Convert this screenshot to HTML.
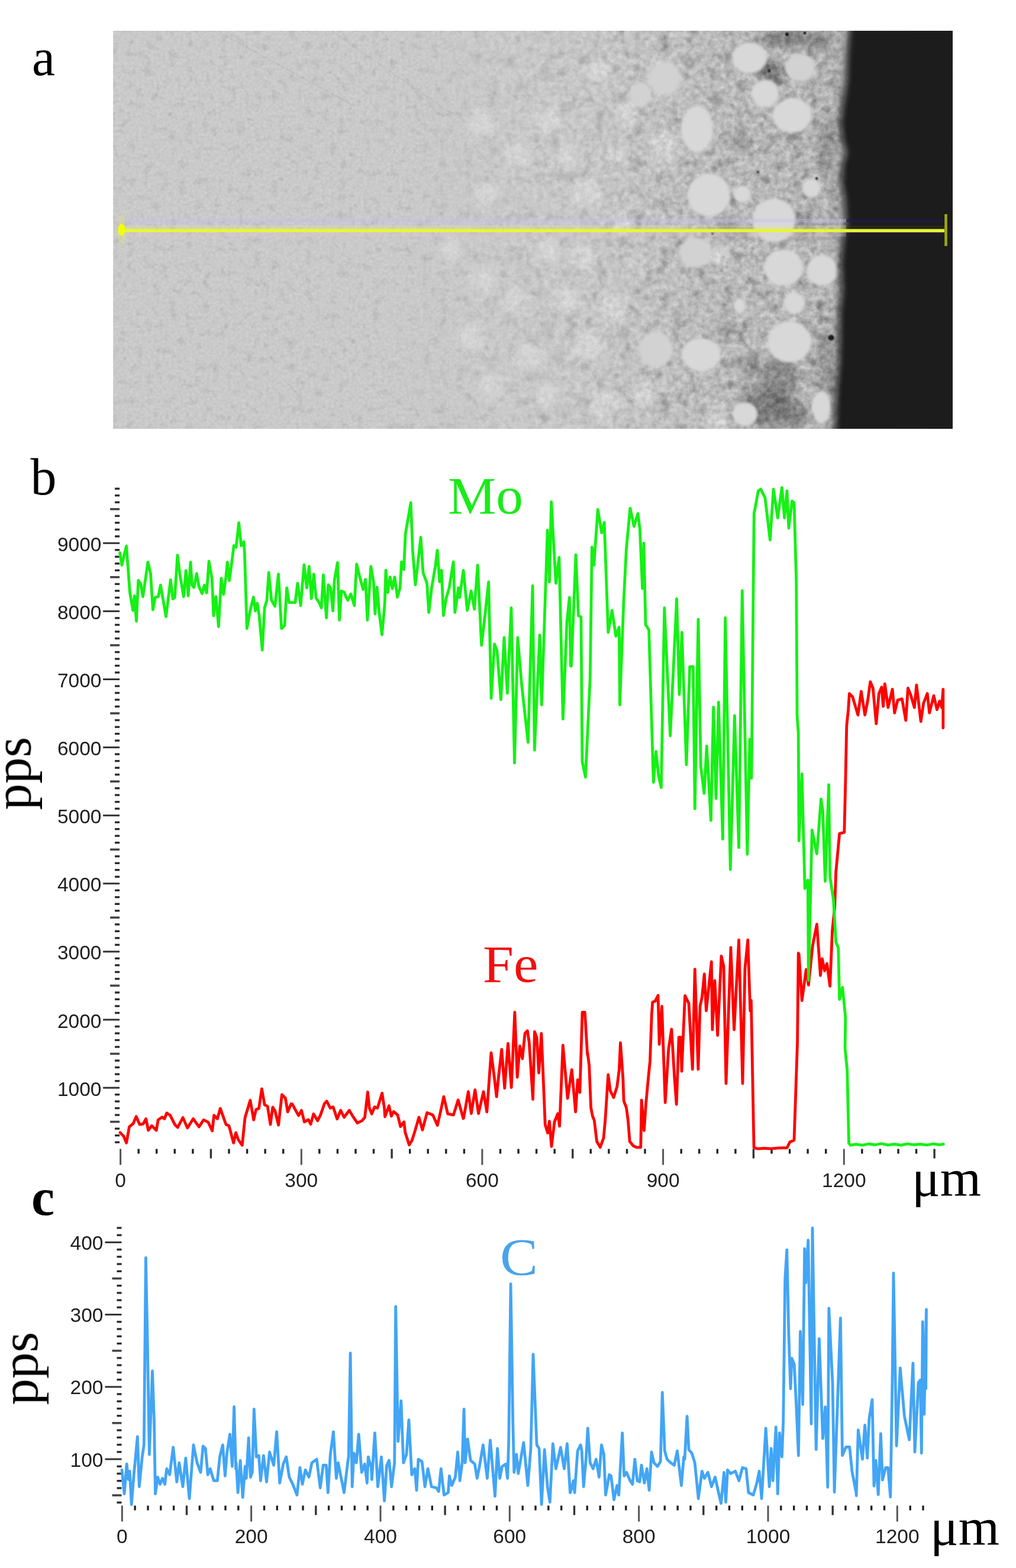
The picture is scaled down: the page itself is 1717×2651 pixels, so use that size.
<!DOCTYPE html>
<html><head><meta charset="utf-8"><title>Line scan</title>
<style>html,body{margin:0;padding:0;background:#fff;}svg{display:block;}</style>
</head><body>
<svg width="1717" height="2651" viewBox="0 0 1717 2651">
<rect x="0" y="0" width="1717" height="2651" fill="#fff"/>
<defs>
<clipPath id="pa"><rect x="191.5" y="52.0" width="1418.5" height="673.0"/></clipPath>
<linearGradient id="bg" x1="191.5" y1="0" x2="1610.0" y2="0" gradientUnits="userSpaceOnUse">
<stop offset="0.0000" stop-color="rgb(202,202,202)"/>
<stop offset="0.3585" stop-color="rgb(202,202,202)"/>
<stop offset="0.4642" stop-color="rgb(202,202,202)"/>
<stop offset="0.5700" stop-color="rgb(200,200,200)"/>
<stop offset="0.6405" stop-color="rgb(195,195,195)"/>
<stop offset="0.7110" stop-color="rgb(189,189,189)"/>
<stop offset="0.8026" stop-color="rgb(186,186,186)"/>
<stop offset="0.8449" stop-color="rgb(182,182,182)"/>
<stop offset="0.8590" stop-color="rgb(176,176,176)"/>
<stop offset="0.8731" stop-color="rgb(160,160,160)"/>
<stop offset="0.8837" stop-color="rgb(60,60,60)"/>
<stop offset="1.0000" stop-color="rgb(26,26,26)"/>
</linearGradient>
<filter id="blur2" x="-20%" y="-20%" width="140%" height="140%"><feGaussianBlur stdDeviation="2.2"/></filter>
<filter id="blur5" x="-30%" y="-30%" width="160%" height="160%"><feGaussianBlur stdDeviation="6"/></filter>
<filter id="blur1"><feGaussianBlur stdDeviation="1.2"/></filter>
<filter id="grainLo" filterUnits="userSpaceOnUse" x="191.5" y="52.0" width="1418.5" height="673.0" color-interpolation-filters="sRGB"><feTurbulence type="fractalNoise" baseFrequency="0.2" numOctaves="2" seed="11" result="t"/><feColorMatrix in="t" type="matrix" values="1 0 0 0 0  1 0 0 0 0  1 0 0 0 0  0 0 0 0 1" result="g"/><feComposite in="SourceGraphic" in2="g" operator="arithmetic" k1="0" k2="1" k3="0.09" k4="-0.045"/></filter>
<filter id="grainHi" filterUnits="userSpaceOnUse" x="191.5" y="52.0" width="1418.5" height="673.0" color-interpolation-filters="sRGB"><feTurbulence type="fractalNoise" baseFrequency="0.11" numOctaves="3" seed="5" result="t"/><feColorMatrix in="t" type="matrix" values="1 0 0 0 0  1 0 0 0 0  1 0 0 0 0  0 0 0 0 1" result="g"/><feComposite in="SourceGraphic" in2="g" operator="arithmetic" k1="0" k2="1" k3="0.28" k4="-0.14"/></filter>
<filter id="mottle" filterUnits="userSpaceOnUse" x="191.5" y="52.0" width="1418.5" height="673.0" color-interpolation-filters="sRGB"><feTurbulence type="fractalNoise" baseFrequency="0.045" numOctaves="2" seed="3" result="t"/><feColorMatrix type="matrix" values="0 0 0 0 0.25  0 0 0 0 0.25  0 0 0 0 0.25  0 0 0 -2.4 1.15" /></filter>
<filter id="mottleL" filterUnits="userSpaceOnUse" x="191.5" y="52.0" width="1418.5" height="673.0" color-interpolation-filters="sRGB"><feTurbulence type="fractalNoise" baseFrequency="0.07" numOctaves="3" seed="21" result="t"/><feColorMatrix type="matrix" values="0 0 0 0 0.3  0 0 0 0 0.3  0 0 0 0 0.3  0 0 0 -2.4 1.15" /></filter>
<filter id="blur3" x="-30%" y="-30%" width="160%" height="160%"><feGaussianBlur stdDeviation="3"/></filter>
<linearGradient id="nmask" x1="191.5" y1="0" x2="1610.0" y2="0" gradientUnits="userSpaceOnUse">
<stop offset="0.0000" stop-color="#fff" stop-opacity="0.00"/>
<stop offset="0.3444" stop-color="#fff" stop-opacity="0.00"/>
<stop offset="0.4642" stop-color="#fff" stop-opacity="0.30"/>
<stop offset="0.5700" stop-color="#fff" stop-opacity="0.50"/>
<stop offset="0.6757" stop-color="#fff" stop-opacity="0.80"/>
<stop offset="0.7674" stop-color="#fff" stop-opacity="1.00"/>
<stop offset="0.8661" stop-color="#fff" stop-opacity="1.00"/>
<stop offset="0.8731" stop-color="#fff" stop-opacity="0.00"/>
<stop offset="1.0000" stop-color="#fff" stop-opacity="0.00"/>
</linearGradient>
<mask id="nm"><rect x="191.5" y="52.0" width="1418.5" height="673.0" fill="url(#nmask)"/></mask>
</defs>
<g clip-path="url(#pa)">
<g id="pcontent">
<rect x="191.5" y="52.0" width="1418.5" height="673.0" fill="url(#bg)"/>
<rect x="191.5" y="52.0" width="1418.5" height="673.0" filter="url(#mottle)" mask="url(#nm)" opacity="0.45"/>
<rect x="191.5" y="52.0" width="1418.5" height="673.0" filter="url(#mottleL)" opacity="0.14"/>
<g filter="url(#blur5)" fill="#dcdcdc" opacity="0.6">
<ellipse cx="1011" cy="117" rx="20" ry="20"/>
<ellipse cx="1122" cy="133" rx="28" ry="28"/>
<ellipse cx="927" cy="201" rx="22" ry="22"/>
<ellipse cx="814" cy="208" rx="22" ry="22"/>
<ellipse cx="875" cy="263" rx="22" ry="22"/>
<ellipse cx="960" cy="263" rx="20" ry="20"/>
<ellipse cx="992" cy="328" rx="26" ry="26"/>
<ellipse cx="1041" cy="263" rx="16" ry="16"/>
<ellipse cx="823" cy="328" rx="20" ry="20"/>
<ellipse cx="927" cy="425" rx="22" ry="22"/>
<ellipse cx="985" cy="435" rx="20" ry="20"/>
<ellipse cx="1076" cy="448" rx="14" ry="14"/>
<ellipse cx="814" cy="474" rx="22" ry="22"/>
<ellipse cx="869" cy="506" rx="20" ry="20"/>
<ellipse cx="960" cy="506" rx="22" ry="22"/>
<ellipse cx="992" cy="587" rx="26" ry="26"/>
<ellipse cx="895" cy="604" rx="22" ry="22"/>
<ellipse cx="797" cy="571" rx="22" ry="22"/>
<ellipse cx="1024" cy="685" rx="26" ry="26"/>
<ellipse cx="927" cy="668" rx="20" ry="20"/>
<ellipse cx="830" cy="652" rx="20" ry="20"/>
<ellipse cx="1089" cy="668" rx="20" ry="20"/>
<ellipse cx="1060" cy="190" rx="20" ry="22"/>
<ellipse cx="1123" cy="250" rx="24" ry="26"/>
<ellipse cx="1040" cy="520" rx="22" ry="24"/>
<ellipse cx="760" cy="420" rx="18" ry="20"/>
<ellipse cx="1175" cy="429" rx="26" ry="24"/>
<ellipse cx="1217" cy="431" rx="18" ry="18"/>
<ellipse cx="1210" cy="707" rx="20" ry="20"/>
<ellipse cx="1050" cy="380" rx="18" ry="18"/>
</g>
<g filter="url(#blur5)">
<ellipse cx="1298" cy="118" rx="22" ry="18" fill="#555" opacity="0.60"/>
<ellipse cx="1330" cy="66" rx="45" ry="14" fill="#555" opacity="0.55"/>
<ellipse cx="1315" cy="135" rx="14" ry="10" fill="#555" opacity="0.50"/>
<ellipse cx="1290" cy="690" rx="40" ry="30" fill="#555" opacity="0.60"/>
<ellipse cx="1340" cy="700" rx="22" ry="26" fill="#555" opacity="0.50"/>
<ellipse cx="1387" cy="68" rx="16" ry="16" fill="#555" opacity="0.45"/>
<ellipse cx="1318" cy="640" rx="30" ry="40" fill="#555" opacity="0.45"/>
<ellipse cx="1228" cy="556" rx="14" ry="14" fill="#555" opacity="0.30"/>
<ellipse cx="1395" cy="250" rx="14" ry="50" fill="#555" opacity="0.30"/>
<ellipse cx="1395" cy="620" rx="14" ry="60" fill="#555" opacity="0.30"/>
<ellipse cx="1270" cy="620" rx="18" ry="20" fill="#555" opacity="0.35"/>
<ellipse cx="1250" cy="240" rx="16" ry="16" fill="#555" opacity="0.30"/>
<ellipse cx="1360" cy="380" rx="16" ry="22" fill="#555" opacity="0.35"/>
<ellipse cx="1230" cy="385" rx="18" ry="18" fill="#555" opacity="0.30"/>
</g>
<circle cx="1404.6" cy="571.0" r="5.0" fill="#111" filter="url(#blur1)"/>
<circle cx="1300.0" cy="120.0" r="2.6" fill="#111" filter="url(#blur1)"/>
<circle cx="1380.0" cy="302.0" r="2.2" fill="#111" filter="url(#blur1)"/>
<circle cx="1281.0" cy="291.0" r="1.8" fill="#111" filter="url(#blur1)"/>
<circle cx="1204.0" cy="395.0" r="1.8" fill="#111" filter="url(#blur1)"/>
<circle cx="1330.0" cy="58.0" r="3.0" fill="#111" filter="url(#blur1)"/>
<circle cx="1360.0" cy="56.0" r="2.5" fill="#111" filter="url(#blur1)"/>
<path d="M380,60 L600,180" stroke="#000" stroke-opacity="0.035" stroke-width="3" fill="none"/>
<path d="M560,52 L760,190" stroke="#000" stroke-opacity="0.03" stroke-width="3" fill="none"/>
</g>
<use href="#pcontent" filter="url(#grainLo)"/>
<use href="#pcontent" filter="url(#grainHi)" mask="url(#nm)"/>
<g filter="url(#blur2)">
<ellipse cx="1266.5" cy="98.0" rx="29.0" ry="26.0" fill="#d8d8d8"/>
<ellipse cx="1293.0" cy="158.0" rx="23.0" ry="23.0" fill="#d8d8d8"/>
<ellipse cx="1339.0" cy="195.0" rx="33.0" ry="29.0" fill="#d8d8d8"/>
<ellipse cx="1352.0" cy="114.0" rx="25.0" ry="23.0" fill="#d2d2d2"/>
<ellipse cx="1178.0" cy="218.0" rx="27.0" ry="39.0" fill="#d8d8d8"/>
<ellipse cx="1197.5" cy="330.0" rx="36.0" ry="36.0" fill="#d8d8d8"/>
<ellipse cx="1254.5" cy="328.0" rx="14.0" ry="14.0" fill="#d8d8d8"/>
<ellipse cx="1308.0" cy="372.0" rx="36.0" ry="37.0" fill="#d8d8d8"/>
<ellipse cx="1371.0" cy="318.0" rx="15.0" ry="16.0" fill="#d8d8d8"/>
<ellipse cx="1176.0" cy="427.0" rx="26.0" ry="25.0" fill="#d2d2d2"/>
<ellipse cx="1324.0" cy="452.5" rx="33.0" ry="31.0" fill="#d8d8d8"/>
<ellipse cx="1389.0" cy="457.0" rx="26.0" ry="26.0" fill="#d8d8d8"/>
<ellipse cx="1342.0" cy="512.0" rx="18.0" ry="18.0" fill="#d8d8d8"/>
<ellipse cx="1250.0" cy="517.0" rx="10.0" ry="12.0" fill="#d8d8d8"/>
<ellipse cx="1334.0" cy="578.0" rx="37.0" ry="35.0" fill="#d8d8d8"/>
<ellipse cx="1185.0" cy="600.0" rx="33.0" ry="28.0" fill="#d8d8d8"/>
<ellipse cx="1108.0" cy="591.0" rx="28.0" ry="30.0" fill="#d2d2d2"/>
<ellipse cx="1388.0" cy="688.0" rx="16.0" ry="27.0" fill="#d8d8d8"/>
<ellipse cx="1259.0" cy="700.0" rx="21.0" ry="20.0" fill="#d8d8d8"/>
<ellipse cx="1123.0" cy="132.0" rx="26.0" ry="27.0" fill="#d2d2d2"/>
<ellipse cx="1082.0" cy="160.0" rx="18.0" ry="20.0" fill="#d2d2d2"/>
</g>
<path d="M1434.0,48.0 L1431.0,70.0 L1428.0,95.0 L1426.0,137.0 L1418.0,180.0 L1415.0,208.0 L1418.0,237.0 L1425.0,258.0 L1418.0,279.0 L1416.5,308.0 L1422.0,336.0 L1424.0,365.0 L1425.0,383.0 L1421.0,395.0 L1419.0,404.0 L1415.0,446.0 L1417.5,489.0 L1413.0,531.0 L1413.0,573.0 L1412.0,615.0 L1408.0,658.0 L1406.0,700.0 L1406.0,730.0 L1419.0,730.0 L1419.0,700.0 L1421.0,658.0 L1425.0,615.0 L1426.0,573.0 L1426.0,531.0 L1430.5,489.0 L1428.0,446.0 L1432.0,404.0 L1434.0,395.0 L1438.0,383.0 L1437.0,365.0 L1435.0,336.0 L1429.5,308.0 L1431.0,279.0 L1438.0,258.0 L1431.0,237.0 L1428.0,208.0 L1431.0,180.0 L1439.0,137.0 L1441.0,95.0 L1444.0,70.0 L1447.0,48.0 Z" fill="#1a1a1a" opacity="0.5" filter="url(#blur3)"/>
<path d="M1443.0,48.0 L1440.0,70.0 L1437.0,95.0 L1435.0,137.0 L1427.0,180.0 L1424.0,208.0 L1427.0,237.0 L1434.0,258.0 L1427.0,279.0 L1425.5,308.0 L1431.0,336.0 L1433.0,365.0 L1434.0,383.0 L1430.0,395.0 L1428.0,404.0 L1424.0,446.0 L1426.5,489.0 L1422.0,531.0 L1422.0,573.0 L1421.0,615.0 L1417.0,658.0 L1415.0,700.0 L1415.0,730.0 L1612,726 L1612,50 Z" fill="#1a1a1a" filter="url(#blur3)"/>
<rect x="200" y="370" width="1230" height="6" fill="#c4bdf0" opacity="0.40"/>
<rect x="200" y="381" width="1230" height="6" fill="#e6e690" opacity="0.30"/>
<rect x="200" y="393" width="1230" height="7" fill="#dcc4e6" opacity="0.25"/>
<rect x="1430" y="370" width="167" height="6" fill="#20185a" opacity="0.45"/>
<rect x="1430" y="381" width="167" height="6" fill="#3a3a10" opacity="0.35"/>
<rect x="1430" y="393" width="167" height="7" fill="#2a1a40" opacity="0.30"/>
<line x1="204" y1="390" x2="1596" y2="390" stroke="#e8f634" stroke-width="5.5"/>
<line x1="1598.5" y1="362" x2="1598.5" y2="416" stroke="#a0aa08" stroke-width="4.5"/>
<rect x="200" y="365" width="11" height="45" fill="#e8ec60" opacity="0.3"/>
<ellipse cx="205.5" cy="388.5" rx="6" ry="10" fill="#f2ff00"/>
</g>
<rect x="194.1" y="1929.5" width="8.0" height="3.4" fill="#2a2a2a"/>
<rect x="194.1" y="1918.0" width="8.0" height="3.4" fill="#2a2a2a"/>
<rect x="194.1" y="1906.5" width="8.0" height="3.4" fill="#2a2a2a"/>
<rect x="186.1" y="1894.8" width="16.0" height="3.6" fill="#444"/>
<rect x="194.1" y="1883.4" width="8.0" height="3.4" fill="#2a2a2a"/>
<rect x="194.1" y="1871.9" width="8.0" height="3.4" fill="#2a2a2a"/>
<rect x="194.1" y="1860.4" width="8.0" height="3.4" fill="#2a2a2a"/>
<rect x="194.1" y="1848.9" width="8.0" height="3.4" fill="#2a2a2a"/>
<rect x="174.1" y="1837.6" width="28.0" height="3" fill="#333"/>
<text x="171.5" y="1852.6" text-anchor="end" style="font-family:'Liberation Sans',Arial,sans-serif;font-size:33.5px" fill="#1e1e1e">1000</text>
<rect x="194.1" y="1825.9" width="8.0" height="3.4" fill="#2a2a2a"/>
<rect x="194.1" y="1814.4" width="8.0" height="3.4" fill="#2a2a2a"/>
<rect x="194.1" y="1802.9" width="8.0" height="3.4" fill="#2a2a2a"/>
<rect x="194.1" y="1791.4" width="8.0" height="3.4" fill="#2a2a2a"/>
<rect x="186.1" y="1779.8" width="16.0" height="3.6" fill="#444"/>
<rect x="194.1" y="1768.3" width="8.0" height="3.4" fill="#2a2a2a"/>
<rect x="194.1" y="1756.8" width="8.0" height="3.4" fill="#2a2a2a"/>
<rect x="194.1" y="1745.3" width="8.0" height="3.4" fill="#2a2a2a"/>
<rect x="194.1" y="1733.8" width="8.0" height="3.4" fill="#2a2a2a"/>
<rect x="174.1" y="1722.5" width="28.0" height="3" fill="#333"/>
<text x="171.5" y="1737.5" text-anchor="end" style="font-family:'Liberation Sans',Arial,sans-serif;font-size:33.5px" fill="#1e1e1e">2000</text>
<rect x="194.1" y="1710.8" width="8.0" height="3.4" fill="#2a2a2a"/>
<rect x="194.1" y="1699.3" width="8.0" height="3.4" fill="#2a2a2a"/>
<rect x="194.1" y="1687.8" width="8.0" height="3.4" fill="#2a2a2a"/>
<rect x="194.1" y="1676.3" width="8.0" height="3.4" fill="#2a2a2a"/>
<rect x="186.1" y="1664.6" width="16.0" height="3.6" fill="#444"/>
<rect x="194.1" y="1653.2" width="8.0" height="3.4" fill="#2a2a2a"/>
<rect x="194.1" y="1641.7" width="8.0" height="3.4" fill="#2a2a2a"/>
<rect x="194.1" y="1630.2" width="8.0" height="3.4" fill="#2a2a2a"/>
<rect x="194.1" y="1618.7" width="8.0" height="3.4" fill="#2a2a2a"/>
<rect x="174.1" y="1607.4" width="28.0" height="3" fill="#333"/>
<text x="171.5" y="1622.4" text-anchor="end" style="font-family:'Liberation Sans',Arial,sans-serif;font-size:33.5px" fill="#1e1e1e">3000</text>
<rect x="194.1" y="1595.7" width="8.0" height="3.4" fill="#2a2a2a"/>
<rect x="194.1" y="1584.2" width="8.0" height="3.4" fill="#2a2a2a"/>
<rect x="194.1" y="1572.7" width="8.0" height="3.4" fill="#2a2a2a"/>
<rect x="194.1" y="1561.2" width="8.0" height="3.4" fill="#2a2a2a"/>
<rect x="186.1" y="1549.5" width="16.0" height="3.6" fill="#444"/>
<rect x="194.1" y="1538.1" width="8.0" height="3.4" fill="#2a2a2a"/>
<rect x="194.1" y="1526.6" width="8.0" height="3.4" fill="#2a2a2a"/>
<rect x="194.1" y="1515.1" width="8.0" height="3.4" fill="#2a2a2a"/>
<rect x="194.1" y="1503.6" width="8.0" height="3.4" fill="#2a2a2a"/>
<rect x="174.1" y="1492.3" width="28.0" height="3" fill="#333"/>
<text x="171.5" y="1507.3" text-anchor="end" style="font-family:'Liberation Sans',Arial,sans-serif;font-size:33.5px" fill="#1e1e1e">4000</text>
<rect x="194.1" y="1480.6" width="8.0" height="3.4" fill="#2a2a2a"/>
<rect x="194.1" y="1469.1" width="8.0" height="3.4" fill="#2a2a2a"/>
<rect x="194.1" y="1457.6" width="8.0" height="3.4" fill="#2a2a2a"/>
<rect x="194.1" y="1446.1" width="8.0" height="3.4" fill="#2a2a2a"/>
<rect x="186.1" y="1434.5" width="16.0" height="3.6" fill="#444"/>
<rect x="194.1" y="1423.0" width="8.0" height="3.4" fill="#2a2a2a"/>
<rect x="194.1" y="1411.5" width="8.0" height="3.4" fill="#2a2a2a"/>
<rect x="194.1" y="1400.0" width="8.0" height="3.4" fill="#2a2a2a"/>
<rect x="194.1" y="1388.5" width="8.0" height="3.4" fill="#2a2a2a"/>
<rect x="174.1" y="1377.2" width="28.0" height="3" fill="#333"/>
<text x="171.5" y="1392.2" text-anchor="end" style="font-family:'Liberation Sans',Arial,sans-serif;font-size:33.5px" fill="#1e1e1e">5000</text>
<rect x="194.1" y="1365.5" width="8.0" height="3.4" fill="#2a2a2a"/>
<rect x="194.1" y="1354.0" width="8.0" height="3.4" fill="#2a2a2a"/>
<rect x="194.1" y="1342.5" width="8.0" height="3.4" fill="#2a2a2a"/>
<rect x="194.1" y="1331.0" width="8.0" height="3.4" fill="#2a2a2a"/>
<rect x="186.1" y="1319.4" width="16.0" height="3.6" fill="#444"/>
<rect x="194.1" y="1307.9" width="8.0" height="3.4" fill="#2a2a2a"/>
<rect x="194.1" y="1296.4" width="8.0" height="3.4" fill="#2a2a2a"/>
<rect x="194.1" y="1284.9" width="8.0" height="3.4" fill="#2a2a2a"/>
<rect x="194.1" y="1273.4" width="8.0" height="3.4" fill="#2a2a2a"/>
<rect x="174.1" y="1262.1" width="28.0" height="3" fill="#333"/>
<text x="171.5" y="1277.1" text-anchor="end" style="font-family:'Liberation Sans',Arial,sans-serif;font-size:33.5px" fill="#1e1e1e">6000</text>
<rect x="194.1" y="1250.4" width="8.0" height="3.4" fill="#2a2a2a"/>
<rect x="194.1" y="1238.9" width="8.0" height="3.4" fill="#2a2a2a"/>
<rect x="194.1" y="1227.4" width="8.0" height="3.4" fill="#2a2a2a"/>
<rect x="194.1" y="1215.9" width="8.0" height="3.4" fill="#2a2a2a"/>
<rect x="186.1" y="1204.2" width="16.0" height="3.6" fill="#444"/>
<rect x="194.1" y="1192.8" width="8.0" height="3.4" fill="#2a2a2a"/>
<rect x="194.1" y="1181.3" width="8.0" height="3.4" fill="#2a2a2a"/>
<rect x="194.1" y="1169.8" width="8.0" height="3.4" fill="#2a2a2a"/>
<rect x="194.1" y="1158.3" width="8.0" height="3.4" fill="#2a2a2a"/>
<rect x="174.1" y="1147.0" width="28.0" height="3" fill="#333"/>
<text x="171.5" y="1162.0" text-anchor="end" style="font-family:'Liberation Sans',Arial,sans-serif;font-size:33.5px" fill="#1e1e1e">7000</text>
<rect x="194.1" y="1135.3" width="8.0" height="3.4" fill="#2a2a2a"/>
<rect x="194.1" y="1123.8" width="8.0" height="3.4" fill="#2a2a2a"/>
<rect x="194.1" y="1112.3" width="8.0" height="3.4" fill="#2a2a2a"/>
<rect x="194.1" y="1100.8" width="8.0" height="3.4" fill="#2a2a2a"/>
<rect x="186.1" y="1089.1" width="16.0" height="3.6" fill="#444"/>
<rect x="194.1" y="1077.7" width="8.0" height="3.4" fill="#2a2a2a"/>
<rect x="194.1" y="1066.2" width="8.0" height="3.4" fill="#2a2a2a"/>
<rect x="194.1" y="1054.7" width="8.0" height="3.4" fill="#2a2a2a"/>
<rect x="194.1" y="1043.2" width="8.0" height="3.4" fill="#2a2a2a"/>
<rect x="174.1" y="1031.9" width="28.0" height="3" fill="#333"/>
<text x="171.5" y="1046.9" text-anchor="end" style="font-family:'Liberation Sans',Arial,sans-serif;font-size:33.5px" fill="#1e1e1e">8000</text>
<rect x="194.1" y="1020.2" width="8.0" height="3.4" fill="#2a2a2a"/>
<rect x="194.1" y="1008.7" width="8.0" height="3.4" fill="#2a2a2a"/>
<rect x="194.1" y="997.2" width="8.0" height="3.4" fill="#2a2a2a"/>
<rect x="194.1" y="985.7" width="8.0" height="3.4" fill="#2a2a2a"/>
<rect x="186.1" y="974.0" width="16.0" height="3.6" fill="#444"/>
<rect x="194.1" y="962.6" width="8.0" height="3.4" fill="#2a2a2a"/>
<rect x="194.1" y="951.1" width="8.0" height="3.4" fill="#2a2a2a"/>
<rect x="194.1" y="939.6" width="8.0" height="3.4" fill="#2a2a2a"/>
<rect x="194.1" y="928.1" width="8.0" height="3.4" fill="#2a2a2a"/>
<rect x="174.1" y="916.8" width="28.0" height="3" fill="#333"/>
<text x="171.5" y="931.8" text-anchor="end" style="font-family:'Liberation Sans',Arial,sans-serif;font-size:33.5px" fill="#1e1e1e">9000</text>
<rect x="194.1" y="905.1" width="8.0" height="3.4" fill="#2a2a2a"/>
<rect x="194.1" y="893.6" width="8.0" height="3.4" fill="#2a2a2a"/>
<rect x="194.1" y="882.1" width="8.0" height="3.4" fill="#2a2a2a"/>
<rect x="194.1" y="870.6" width="8.0" height="3.4" fill="#2a2a2a"/>
<rect x="186.1" y="859.0" width="16.0" height="3.6" fill="#444"/>
<rect x="194.1" y="847.5" width="8.0" height="3.4" fill="#2a2a2a"/>
<rect x="194.1" y="836.0" width="8.0" height="3.4" fill="#2a2a2a"/>
<rect x="194.1" y="824.5" width="8.0" height="3.4" fill="#2a2a2a"/>
<rect x="202.1" y="1942.5" width="3" height="27.0" fill="#555"/>
<rect x="232.5" y="1942.5" width="3.4" height="8.0" fill="#222"/>
<rect x="263.0" y="1942.5" width="3.4" height="8.0" fill="#222"/>
<rect x="293.6" y="1942.5" width="3.4" height="8.0" fill="#222"/>
<rect x="324.2" y="1942.5" width="3.4" height="8.0" fill="#222"/>
<rect x="354.7" y="1942.5" width="3.4" height="16.0" fill="#333"/>
<rect x="385.3" y="1942.5" width="3.4" height="8.0" fill="#222"/>
<rect x="415.9" y="1942.5" width="3.4" height="8.0" fill="#222"/>
<rect x="446.4" y="1942.5" width="3.4" height="8.0" fill="#222"/>
<rect x="477.0" y="1942.5" width="3.4" height="8.0" fill="#222"/>
<rect x="507.8" y="1942.5" width="3" height="27.0" fill="#555"/>
<rect x="538.1" y="1942.5" width="3.4" height="8.0" fill="#222"/>
<rect x="568.7" y="1942.5" width="3.4" height="8.0" fill="#222"/>
<rect x="599.3" y="1942.5" width="3.4" height="8.0" fill="#222"/>
<rect x="629.8" y="1942.5" width="3.4" height="8.0" fill="#222"/>
<rect x="660.4" y="1942.5" width="3.4" height="16.0" fill="#333"/>
<rect x="691.0" y="1942.5" width="3.4" height="8.0" fill="#222"/>
<rect x="721.5" y="1942.5" width="3.4" height="8.0" fill="#222"/>
<rect x="752.1" y="1942.5" width="3.4" height="8.0" fill="#222"/>
<rect x="782.7" y="1942.5" width="3.4" height="8.0" fill="#222"/>
<rect x="813.4" y="1942.5" width="3" height="27.0" fill="#555"/>
<rect x="843.8" y="1942.5" width="3.4" height="8.0" fill="#222"/>
<rect x="874.4" y="1942.5" width="3.4" height="8.0" fill="#222"/>
<rect x="904.9" y="1942.5" width="3.4" height="8.0" fill="#222"/>
<rect x="935.5" y="1942.5" width="3.4" height="8.0" fill="#222"/>
<rect x="966.1" y="1942.5" width="3.4" height="16.0" fill="#333"/>
<rect x="996.6" y="1942.5" width="3.4" height="8.0" fill="#222"/>
<rect x="1027.2" y="1942.5" width="3.4" height="8.0" fill="#222"/>
<rect x="1057.8" y="1942.5" width="3.4" height="8.0" fill="#222"/>
<rect x="1088.3" y="1942.5" width="3.4" height="8.0" fill="#222"/>
<rect x="1119.1" y="1942.5" width="3" height="27.0" fill="#555"/>
<rect x="1149.5" y="1942.5" width="3.4" height="8.0" fill="#222"/>
<rect x="1180.0" y="1942.5" width="3.4" height="8.0" fill="#222"/>
<rect x="1210.6" y="1942.5" width="3.4" height="8.0" fill="#222"/>
<rect x="1241.2" y="1942.5" width="3.4" height="8.0" fill="#222"/>
<rect x="1271.7" y="1942.5" width="3.4" height="16.0" fill="#333"/>
<rect x="1302.3" y="1942.5" width="3.4" height="8.0" fill="#222"/>
<rect x="1332.9" y="1942.5" width="3.4" height="8.0" fill="#222"/>
<rect x="1363.4" y="1942.5" width="3.4" height="8.0" fill="#222"/>
<rect x="1394.0" y="1942.5" width="3.4" height="8.0" fill="#222"/>
<rect x="1424.8" y="1942.5" width="3" height="27.0" fill="#555"/>
<rect x="1455.1" y="1942.5" width="3.4" height="8.0" fill="#222"/>
<rect x="1485.7" y="1942.5" width="3.4" height="8.0" fill="#222"/>
<rect x="1516.3" y="1942.5" width="3.4" height="8.0" fill="#222"/>
<rect x="1546.8" y="1942.5" width="3.4" height="8.0" fill="#222"/>
<rect x="1577.4" y="1942.5" width="3.4" height="16.0" fill="#333"/>
<text x="203.6" y="2006.5" text-anchor="middle" style="font-family:'Liberation Sans',Arial,sans-serif;font-size:33.5px" fill="#1e1e1e">0</text>
<text x="509.3" y="2006.5" text-anchor="middle" style="font-family:'Liberation Sans',Arial,sans-serif;font-size:33.5px" fill="#1e1e1e">300</text>
<text x="814.9" y="2006.5" text-anchor="middle" style="font-family:'Liberation Sans',Arial,sans-serif;font-size:33.5px" fill="#1e1e1e">600</text>
<text x="1120.6" y="2006.5" text-anchor="middle" style="font-family:'Liberation Sans',Arial,sans-serif;font-size:33.5px" fill="#1e1e1e">900</text>
<text x="1426.3" y="2006.5" text-anchor="middle" style="font-family:'Liberation Sans',Arial,sans-serif;font-size:33.5px" fill="#1e1e1e">1200</text>
<rect x="197.5" y="2538.6" width="8.0" height="3.4" fill="#2a2a2a"/>
<rect x="189.5" y="2526.3" width="16.0" height="3.6" fill="#444"/>
<rect x="197.5" y="2514.2" width="8.0" height="3.4" fill="#2a2a2a"/>
<rect x="197.5" y="2502.0" width="8.0" height="3.4" fill="#2a2a2a"/>
<rect x="197.5" y="2489.7" width="8.0" height="3.4" fill="#2a2a2a"/>
<rect x="197.5" y="2477.5" width="8.0" height="3.4" fill="#2a2a2a"/>
<rect x="177.5" y="2465.5" width="28.0" height="3" fill="#333"/>
<text x="174.5" y="2479.5" text-anchor="end" style="font-family:'Liberation Sans',Arial,sans-serif;font-size:33.5px" fill="#1e1e1e">100</text>
<rect x="197.5" y="2453.1" width="8.0" height="3.4" fill="#2a2a2a"/>
<rect x="197.5" y="2440.9" width="8.0" height="3.4" fill="#2a2a2a"/>
<rect x="197.5" y="2428.6" width="8.0" height="3.4" fill="#2a2a2a"/>
<rect x="197.5" y="2416.4" width="8.0" height="3.4" fill="#2a2a2a"/>
<rect x="189.5" y="2404.1" width="16.0" height="3.6" fill="#444"/>
<rect x="197.5" y="2392.0" width="8.0" height="3.4" fill="#2a2a2a"/>
<rect x="197.5" y="2379.8" width="8.0" height="3.4" fill="#2a2a2a"/>
<rect x="197.5" y="2367.5" width="8.0" height="3.4" fill="#2a2a2a"/>
<rect x="197.5" y="2355.3" width="8.0" height="3.4" fill="#2a2a2a"/>
<rect x="177.5" y="2343.3" width="28.0" height="3" fill="#333"/>
<text x="174.5" y="2357.3" text-anchor="end" style="font-family:'Liberation Sans',Arial,sans-serif;font-size:33.5px" fill="#1e1e1e">200</text>
<rect x="197.5" y="2330.9" width="8.0" height="3.4" fill="#2a2a2a"/>
<rect x="197.5" y="2318.7" width="8.0" height="3.4" fill="#2a2a2a"/>
<rect x="197.5" y="2306.4" width="8.0" height="3.4" fill="#2a2a2a"/>
<rect x="197.5" y="2294.2" width="8.0" height="3.4" fill="#2a2a2a"/>
<rect x="189.5" y="2281.9" width="16.0" height="3.6" fill="#444"/>
<rect x="197.5" y="2269.8" width="8.0" height="3.4" fill="#2a2a2a"/>
<rect x="197.5" y="2257.6" width="8.0" height="3.4" fill="#2a2a2a"/>
<rect x="197.5" y="2245.3" width="8.0" height="3.4" fill="#2a2a2a"/>
<rect x="197.5" y="2233.1" width="8.0" height="3.4" fill="#2a2a2a"/>
<rect x="177.5" y="2221.1" width="28.0" height="3" fill="#333"/>
<text x="174.5" y="2235.1" text-anchor="end" style="font-family:'Liberation Sans',Arial,sans-serif;font-size:33.5px" fill="#1e1e1e">300</text>
<rect x="197.5" y="2208.7" width="8.0" height="3.4" fill="#2a2a2a"/>
<rect x="197.5" y="2196.5" width="8.0" height="3.4" fill="#2a2a2a"/>
<rect x="197.5" y="2184.2" width="8.0" height="3.4" fill="#2a2a2a"/>
<rect x="197.5" y="2172.0" width="8.0" height="3.4" fill="#2a2a2a"/>
<rect x="189.5" y="2159.7" width="16.0" height="3.6" fill="#444"/>
<rect x="197.5" y="2147.6" width="8.0" height="3.4" fill="#2a2a2a"/>
<rect x="197.5" y="2135.4" width="8.0" height="3.4" fill="#2a2a2a"/>
<rect x="197.5" y="2123.1" width="8.0" height="3.4" fill="#2a2a2a"/>
<rect x="197.5" y="2110.9" width="8.0" height="3.4" fill="#2a2a2a"/>
<rect x="177.5" y="2098.9" width="28.0" height="3" fill="#333"/>
<text x="174.5" y="2112.9" text-anchor="end" style="font-family:'Liberation Sans',Arial,sans-serif;font-size:33.5px" fill="#1e1e1e">400</text>
<rect x="197.5" y="2086.5" width="8.0" height="3.4" fill="#2a2a2a"/>
<rect x="197.5" y="2074.3" width="8.0" height="3.4" fill="#2a2a2a"/>
<rect x="204.8" y="2545.5" width="3" height="27.0" fill="#555"/>
<rect x="226.4" y="2545.5" width="3.4" height="8.0" fill="#222"/>
<rect x="248.3" y="2545.5" width="3.4" height="8.0" fill="#222"/>
<rect x="270.1" y="2545.5" width="3.4" height="8.0" fill="#222"/>
<rect x="291.9" y="2545.5" width="3.4" height="8.0" fill="#222"/>
<rect x="313.8" y="2545.5" width="3.4" height="16.0" fill="#333"/>
<rect x="335.6" y="2545.5" width="3.4" height="8.0" fill="#222"/>
<rect x="357.4" y="2545.5" width="3.4" height="8.0" fill="#222"/>
<rect x="379.3" y="2545.5" width="3.4" height="8.0" fill="#222"/>
<rect x="401.1" y="2545.5" width="3.4" height="8.0" fill="#222"/>
<rect x="423.1" y="2545.5" width="3" height="27.0" fill="#555"/>
<rect x="444.8" y="2545.5" width="3.4" height="8.0" fill="#222"/>
<rect x="466.6" y="2545.5" width="3.4" height="8.0" fill="#222"/>
<rect x="488.4" y="2545.5" width="3.4" height="8.0" fill="#222"/>
<rect x="510.3" y="2545.5" width="3.4" height="8.0" fill="#222"/>
<rect x="532.1" y="2545.5" width="3.4" height="16.0" fill="#333"/>
<rect x="553.9" y="2545.5" width="3.4" height="8.0" fill="#222"/>
<rect x="575.8" y="2545.5" width="3.4" height="8.0" fill="#222"/>
<rect x="597.6" y="2545.5" width="3.4" height="8.0" fill="#222"/>
<rect x="619.4" y="2545.5" width="3.4" height="8.0" fill="#222"/>
<rect x="641.5" y="2545.5" width="3" height="27.0" fill="#555"/>
<rect x="663.1" y="2545.5" width="3.4" height="8.0" fill="#222"/>
<rect x="684.9" y="2545.5" width="3.4" height="8.0" fill="#222"/>
<rect x="706.8" y="2545.5" width="3.4" height="8.0" fill="#222"/>
<rect x="728.6" y="2545.5" width="3.4" height="8.0" fill="#222"/>
<rect x="750.4" y="2545.5" width="3.4" height="16.0" fill="#333"/>
<rect x="772.3" y="2545.5" width="3.4" height="8.0" fill="#222"/>
<rect x="794.1" y="2545.5" width="3.4" height="8.0" fill="#222"/>
<rect x="816.0" y="2545.5" width="3.4" height="8.0" fill="#222"/>
<rect x="837.8" y="2545.5" width="3.4" height="8.0" fill="#222"/>
<rect x="859.8" y="2545.5" width="3" height="27.0" fill="#555"/>
<rect x="881.5" y="2545.5" width="3.4" height="8.0" fill="#222"/>
<rect x="903.3" y="2545.5" width="3.4" height="8.0" fill="#222"/>
<rect x="925.1" y="2545.5" width="3.4" height="8.0" fill="#222"/>
<rect x="947.0" y="2545.5" width="3.4" height="8.0" fill="#222"/>
<rect x="968.8" y="2545.5" width="3.4" height="16.0" fill="#333"/>
<rect x="990.6" y="2545.5" width="3.4" height="8.0" fill="#222"/>
<rect x="1012.5" y="2545.5" width="3.4" height="8.0" fill="#222"/>
<rect x="1034.3" y="2545.5" width="3.4" height="8.0" fill="#222"/>
<rect x="1056.1" y="2545.5" width="3.4" height="8.0" fill="#222"/>
<rect x="1078.2" y="2545.5" width="3" height="27.0" fill="#555"/>
<rect x="1099.8" y="2545.5" width="3.4" height="8.0" fill="#222"/>
<rect x="1121.6" y="2545.5" width="3.4" height="8.0" fill="#222"/>
<rect x="1143.5" y="2545.5" width="3.4" height="8.0" fill="#222"/>
<rect x="1165.3" y="2545.5" width="3.4" height="8.0" fill="#222"/>
<rect x="1187.1" y="2545.5" width="3.4" height="16.0" fill="#333"/>
<rect x="1209.0" y="2545.5" width="3.4" height="8.0" fill="#222"/>
<rect x="1230.8" y="2545.5" width="3.4" height="8.0" fill="#222"/>
<rect x="1252.6" y="2545.5" width="3.4" height="8.0" fill="#222"/>
<rect x="1274.5" y="2545.5" width="3.4" height="8.0" fill="#222"/>
<rect x="1296.5" y="2545.5" width="3" height="27.0" fill="#555"/>
<rect x="1318.1" y="2545.5" width="3.4" height="8.0" fill="#222"/>
<rect x="1340.0" y="2545.5" width="3.4" height="8.0" fill="#222"/>
<rect x="1361.8" y="2545.5" width="3.4" height="8.0" fill="#222"/>
<rect x="1383.6" y="2545.5" width="3.4" height="8.0" fill="#222"/>
<rect x="1405.5" y="2545.5" width="3.4" height="16.0" fill="#333"/>
<rect x="1427.3" y="2545.5" width="3.4" height="8.0" fill="#222"/>
<rect x="1449.1" y="2545.5" width="3.4" height="8.0" fill="#222"/>
<rect x="1471.0" y="2545.5" width="3.4" height="8.0" fill="#222"/>
<rect x="1492.8" y="2545.5" width="3.4" height="8.0" fill="#222"/>
<rect x="1514.8" y="2545.5" width="3" height="27.0" fill="#555"/>
<rect x="1536.5" y="2545.5" width="3.4" height="8.0" fill="#222"/>
<rect x="1558.3" y="2545.5" width="3.4" height="8.0" fill="#222"/>
<text x="206.3" y="2609.0" text-anchor="middle" style="font-family:'Liberation Sans',Arial,sans-serif;font-size:33.5px" fill="#1e1e1e">0</text>
<text x="424.6" y="2609.0" text-anchor="middle" style="font-family:'Liberation Sans',Arial,sans-serif;font-size:33.5px" fill="#1e1e1e">200</text>
<text x="643.0" y="2609.0" text-anchor="middle" style="font-family:'Liberation Sans',Arial,sans-serif;font-size:33.5px" fill="#1e1e1e">400</text>
<text x="861.3" y="2609.0" text-anchor="middle" style="font-family:'Liberation Sans',Arial,sans-serif;font-size:33.5px" fill="#1e1e1e">600</text>
<text x="1079.7" y="2609.0" text-anchor="middle" style="font-family:'Liberation Sans',Arial,sans-serif;font-size:33.5px" fill="#1e1e1e">800</text>
<text x="1298.0" y="2609.0" text-anchor="middle" style="font-family:'Liberation Sans',Arial,sans-serif;font-size:33.5px" fill="#1e1e1e">1000</text>
<text x="1516.3" y="2609.0" text-anchor="middle" style="font-family:'Liberation Sans',Arial,sans-serif;font-size:33.5px" fill="#1e1e1e">1200</text>
<defs><filter id="soft" x="-2%" y="-2%" width="104%" height="104%"><feGaussianBlur stdDeviation="0.6"/></filter></defs>
<g filter="url(#soft)">
<polyline points="202.9,1914.9 208.8,1920.7 213.6,1932.4 218.5,1905.1 225.3,1899.3 230.2,1887.6 236.0,1901.2 241.9,1900.3 246.7,1891.5 250.6,1911.0 256.5,1903.2 264.2,1911.0 267.2,1893.4 274.0,1888.6 277.9,1891.5 281.8,1881.8 287.6,1885.7 295.4,1901.2 300.3,1906.1 309.0,1889.5 316.8,1907.1 326.5,1891.5 336.3,1905.1 344.1,1893.4 351.8,1897.3 358.7,1911.9 361.6,1885.7 367.4,1891.5 372.3,1874.0 377.1,1887.6 382.0,1901.2 386.9,1903.2 394.7,1932.4 398.6,1914.9 402.5,1926.5 409.3,1936.3 414.1,1889.5 422.9,1860.3 428.7,1893.4 432.6,1875.9 437.5,1874.0 442.4,1840.9 447.2,1868.1 452.1,1870.1 457.0,1901.2 460.9,1872.0 464.7,1877.9 470.6,1902.2 476.4,1850.6 482.3,1856.5 486.2,1879.8 492.0,1866.2 493.9,1866.6 499.7,1877.3 504.6,1886.1 509.5,1877.3 514.3,1896.8 521.1,1892.9 525.0,1900.7 529.9,1883.2 536.7,1894.9 541.6,1885.1 548.4,1865.7 552.3,1861.8 558.1,1873.4 563.0,1871.5 569.8,1891.9 575.7,1877.3 581.5,1889.0 590.3,1877.3 596.1,1887.1 603.9,1898.7 611.7,1894.9 616.5,1889.0 621.4,1846.2 624.3,1873.4 628.2,1883.2 633.1,1871.5 637.9,1873.4 645.7,1848.1 649.6,1873.4 650.6,1888.0 657.4,1869.5 661.3,1887.1 665.2,1879.3 672.0,1885.1 676.9,1904.6 682.7,1896.8 684.7,1914.3 691.5,1935.7 696.3,1927.9 701.2,1912.4 708.0,1889.0 713.9,1910.4 721.7,1881.2 731.4,1885.1 739.2,1902.6 745.0,1877.3 749.9,1854.0 756.7,1883.2 766.4,1885.1 774.2,1859.8 783.0,1891.0 783.6,1889.9 791.4,1845.6 796.4,1882.7 802.8,1842.7 808.6,1882.7 817.1,1845.6 822.8,1879.9 830.0,1779.9 835.0,1818.5 839.2,1854.2 842.8,1818.5 847.8,1774.2 852.8,1839.9 858.5,1764.2 864.2,1838.5 869.9,1711.4 874.2,1821.3 878.5,1768.5 882.8,1789.9 887.1,1747.1 891.3,1742.8 894.2,1761.4 900.6,1858.5 903.5,1744.2 907.1,1754.2 910.6,1814.2 914.9,1747.1 918.5,1832.8 921.3,1901.3 925.6,1915.6 928.5,1895.6 932.0,1938.4 937.0,1897.0 942.7,1882.7 945.6,1904.1 951.3,1767.1 959.2,1857.0 966.3,1808.5 972.7,1879.9 976.3,1825.6 979.9,1847.0 984.1,1711.4 988.4,1711.4 992.7,1782.8 992.9,1779.9 995.7,1801.3 998.6,1872.7 1001.4,1887.0 1004.3,1894.1 1008.6,1929.8 1014.3,1939.8 1020.0,1924.1 1022.8,1894.1 1027.8,1817.0 1031.4,1844.2 1037.1,1855.6 1042.8,1837.0 1046.4,1808.5 1048.5,1762.8 1052.8,1822.8 1054.2,1861.3 1058.5,1872.7 1061.4,1894.1 1064.2,1929.8 1069.9,1937.0 1075.7,1939.8 1082.8,1939.8 1084.2,1859.9 1088.5,1911.3 1091.4,1868.4 1095.6,1822.8 1098.5,1794.2 1101.3,1715.7 1102.8,1694.3 1107.1,1692.8 1112.1,1682.9 1114.2,1765.7 1118.5,1701.4 1124.2,1864.2 1129.9,1772.8 1134.9,1740.0 1139.9,1822.8 1143.2,1867.0 1147.2,1753.6 1150.4,1753.6 1152.0,1811.1 1157.6,1683.4 1164.0,1696.2 1170.3,1807.9 1174.3,1638.7 1179.9,1807.9 1183.1,1700.9 1186.3,1686.6 1190.3,1646.7 1193.5,1708.9 1202.3,1625.9 1203.9,1740.9 1207.9,1657.8 1212.7,1750.5 1219.0,1616.3 1223.0,1633.9 1227.0,1831.9 1235.0,1601.9 1240.6,1740.9 1248.6,1589.2 1255.0,1831.9 1259.0,1637.1 1263.8,1589.2 1267.8,1708.9 1269.4,1691.4 1274.1,1940.5 1280.5,1942.1 1291.7,1941.3 1302.9,1942.1 1315.7,1940.8 1330.0,1940.5 1334.8,1930.9 1342.0,1927.7 1344.4,1857.4 1347.6,1761.6 1349.2,1611.5 1350.2,1613.0 1355.2,1691.6 1362.3,1639.2 1366.3,1665.4 1373.3,1598.9 1380.4,1562.6 1386.5,1649.3 1389.5,1621.0 1393.5,1641.2 1397.5,1629.1 1402.6,1667.4 1406.6,1572.7 1410.6,1534.4 1412.7,1473.9 1418.7,1409.4 1426.8,1407.3 1428.8,1324.7 1430.8,1227.1 1433.6,1199.9 1435.4,1172.6 1440.8,1178.1 1449.9,1208.9 1455.4,1169.0 1461.7,1208.9 1466.3,1185.3 1470.8,1152.6 1475.3,1163.5 1480.8,1223.5 1485.3,1172.6 1489.9,1161.7 1492.6,1194.4 1495.3,1156.2 1500.8,1196.2 1508.1,1165.3 1511.7,1205.3 1517.1,1183.5 1524.4,1181.7 1530.8,1218.0 1534.4,1163.5 1538.9,1174.4 1545.3,1196.2 1548.9,1158.1 1556.2,1219.8 1560.7,1189.0 1567.1,1172.6 1570.7,1205.3 1578.0,1176.2 1583.5,1199.9 1588.0,1185.3 1591.6,1196.2 1593.8,1165.3 1593.8,1230.7" fill="none" stroke="#ff0000" stroke-width="4.8" stroke-linejoin="round" stroke-linecap="round"/>
<polyline points="202.6,934.7 205.8,955.5 213.6,923.1 219.5,1002.2 224.7,1032.1 227.3,1007.4 230.5,1050.3 233.7,981.5 237.6,986.7 241.5,1008.7 250.0,950.3 254.5,969.8 258.4,1030.8 262.3,1010.0 267.5,1008.7 271.4,989.3 280.5,1042.5 284.4,1011.3 288.3,980.2 292.1,1012.6 295.4,1010.0 299.9,938.6 303.8,969.8 310.3,1008.7 314.2,964.6 318.1,1007.4 322.0,950.3 324.6,989.3 327.8,993.1 332.4,969.8 336.3,991.8 341.5,1003.5 345.4,989.3 349.3,1002.2 353.1,949.0 358.3,978.9 360.9,1041.2 364.8,1008.7 369.4,1059.3 373.9,977.6 377.8,1004.8 381.7,976.3 384.3,950.3 387.5,981.5 392.1,947.7 395.2,922.5 399.1,925.1 403.6,883.6 407.5,922.5 412.1,916.0 413.4,936.8 417.3,1062.7 422.4,1034.1 428.3,1009.5 431.5,1032.8 434.8,1019.9 438.0,1040.6 443.2,1099.0 447.1,1027.7 451.0,1014.7 454.2,968.0 458.8,1014.7 464.6,1025.1 470.5,970.6 475.7,1062.7 480.9,1057.5 484.7,993.9 488.6,1018.6 492.5,1018.6 499.0,1018.6 502.9,986.1 508.1,1023.8 513.9,955.0 518.5,993.9 522.4,957.6 526.3,1012.1 530.2,970.6 534.1,1010.8 539.3,1018.6 543.1,1027.7 546.4,971.8 551.6,1044.5 554.8,988.7 558.7,993.9 562.6,1032.8 565.2,980.9 570.4,951.1 573.6,1048.4 576.9,999.1 582.1,1001.7 584.7,1009.5 587.8,1014.7 593.0,1004.3 598.8,1023.8 602.7,953.7 607.3,973.1 613.7,996.5 617.6,979.6 620.9,1048.4 626.7,957.6 631.3,983.5 633.9,1038.0 637.1,992.6 641.0,1036.7 645.5,1073.1 650.1,1022.5 652.0,964.1 655.3,1001.7 659.2,975.7 663.1,995.2 667.0,975.7 671.5,1009.5 676.0,993.9 678.6,949.8 682.5,962.8 685.1,903.1 694.2,849.9 697.5,932.9 702.0,988.7 706.5,949.8 711.1,908.3 715.0,968.0 721.5,986.1 724.7,1035.4 729.3,995.2 735.7,957.6 739.0,930.3 742.9,983.5 746.1,964.1 749.4,1040.6 753.9,1012.1 759.1,993.9 766.2,949.8 768.8,1035.4 774.7,993.9 776.6,1010.2 783.1,964.3 789.7,1032.0 796.2,999.2 801.7,1029.8 807.2,955.5 813.7,1091.0 820.3,1034.2 825.7,983.9 830.1,1180.7 835.6,1088.9 839.9,1099.8 846.5,1182.8 852.0,1077.9 857.4,1171.9 864.0,1027.7 869.5,1289.9 874.9,1077.9 881.5,1156.6 892.4,1255.0 900.1,990.5 903.3,1268.1 912.1,1073.6 915.4,1191.6 925.2,896.5 928.5,983.9 931.7,848.4 939.4,986.1 944.9,942.4 951.4,1215.6 958.0,1051.7 962.3,1010.2 964.5,1126.0 965.5,1126.0 973.1,938.0 977.5,1040.8 981.9,1043.0 984.0,1287.8 989.5,1314.0 997.2,1147.9 1000.4,924.9 1003.7,955.5 1010.3,861.5 1016.8,900.9 1021.2,883.4 1027.8,1069.2 1034.3,1032.0 1040.9,1075.7 1046.3,1060.4 1047.4,1191.6 1054.0,1016.7 1058.4,929.3 1064.9,859.3 1071.5,889.9 1078.0,868.1 1081.3,894.3 1085.7,994.9 1087.9,918.4 1091.1,1056.1 1096.6,1064.8 1104.3,1322.7 1108.6,1270.3 1113.0,1311.8 1117.4,1331.5 1122.8,1027.7 1132.7,1244.0 1143.6,1012.3 1148.0,1174.1 1152.3,1069.2 1160.0,1292.9 1165.7,1127.1 1171.4,1127.1 1174.3,1367.1 1180.0,1047.1 1184.3,1295.7 1190.0,1341.4 1194.3,1261.4 1201.4,1387.1 1205.7,1195.7 1210.0,1350.0 1214.3,1187.1 1221.4,1418.6 1225.7,1044.3 1234.3,1470.0 1241.4,1210.0 1248.6,1432.9 1254.3,998.6 1262.9,1444.3 1267.1,1250.0 1270.0,1315.7 1274.3,867.1 1275.7,861.4 1281.4,830.0 1285.7,827.1 1292.9,841.4 1301.4,912.9 1307.1,827.1 1314.3,875.7 1321.4,824.3 1325.7,875.7 1330.0,830.0 1332.9,892.9 1338.6,847.1 1342.0,850.0 1345.7,981.4 1347.1,1210.0 1349.2,1240.0 1350.2,1421.5 1355.2,1308.5 1360.2,1502.1 1365.3,1488.0 1366.3,1657.3 1372.3,1403.3 1380.4,1443.6 1387.5,1350.9 1390.5,1371.0 1394.5,1490.0 1400.6,1326.7 1402.6,1481.9 1408.6,1522.3 1412.7,1592.8 1416.7,1602.9 1418.7,1689.6 1423.8,1669.4 1428.8,1719.8 1428.1,1772.7 1431.7,1809.0 1434.5,1932.6 1437.2,1936.2 1446.3,1934.7 1457.2,1936.2 1468.1,1934.0 1479.0,1935.5 1489.9,1933.5 1500.8,1935.8 1511.7,1934.4 1522.6,1936.2 1533.5,1933.8 1544.4,1935.5 1555.3,1934.4 1566.2,1935.8 1577.1,1934.0 1588.0,1935.3 1594.4,1934.4" fill="none" stroke="#12f012" stroke-width="4.8" stroke-linejoin="round" stroke-linecap="round"/>
<polyline points="206.0,2485.2 210.1,2525.6 214.1,2475.2 217.1,2501.4 219.2,2487.3 222.2,2543.7 226.2,2493.3 228.2,2473.1 232.3,2428.8 235.3,2513.5 240.3,2463.1 243.3,2442.9 246.4,2126.4 249.4,2281.6 252.4,2459.0 257.5,2317.9 260.5,2402.6 262.5,2525.6 266.5,2497.3 270.6,2509.4 274.6,2499.4 278.6,2509.4 281.7,2483.2 286.7,2493.3 292.7,2446.9 298.8,2505.4 302.8,2473.1 308.9,2513.5 313.9,2465.1 320.0,2533.6 327.0,2442.9 333.1,2473.1 339.1,2489.3 343.1,2444.9 347.2,2449.0 351.2,2493.3 355.2,2483.2 361.3,2503.4 367.3,2503.4 371.4,2463.1 376.4,2442.9 380.4,2495.3 383.5,2457.0 388.5,2424.8 392.5,2479.2 395.6,2378.4 398.6,2483.2 399.1,2473.1 402.1,2523.5 406.1,2469.1 410.2,2531.6 414.2,2479.2 416.2,2499.4 420.2,2430.8 423.3,2497.3 426.3,2489.3 429.3,2382.4 433.3,2463.1 437.4,2461.0 440.4,2503.4 445.4,2461.0 450.5,2505.4 455.5,2455.0 462.6,2477.2 467.6,2420.7 472.7,2507.4 478.7,2475.2 483.8,2463.1 488.8,2497.3 494.8,2509.4 501.9,2527.6 506.9,2481.2 511.0,2509.4 516.0,2485.2 522.1,2497.3 527.1,2473.1 535.2,2467.1 541.2,2515.5 546.2,2477.2 551.3,2477.2 554.3,2523.5 558.3,2459.0 563.4,2420.7 568.4,2499.4 571.5,2473.1 581.5,2523.5 587.6,2473.1 589.1,2463.1 592.1,2287.7 595.1,2513.5 598.1,2457.0 602.2,2473.1 606.2,2424.8 611.2,2489.3 616.3,2475.2 620.3,2507.4 622.3,2463.1 627.4,2481.2 628.4,2501.4 633.4,2422.7 638.5,2513.5 644.5,2463.1 649.6,2537.7 653.6,2477.2 657.6,2469.1 661.7,2513.5 666.7,2473.1 668.7,2209.0 672.7,2436.9 677.8,2368.3 681.8,2473.1 686.9,2459.0 690.9,2400.6 695.9,2493.3 701.0,2483.2 704.0,2519.5 707.0,2467.1 713.1,2471.1 718.1,2513.5 723.1,2483.2 729.2,2513.5 737.3,2515.5 741.3,2521.5 745.3,2483.2 750.4,2527.6 757.4,2523.5 759.4,2495.3 763.5,2511.5 769.5,2497.3 773.5,2455.0 776.6,2493.3 777.1,2503.4 781.1,2473.1 784.1,2382.4 786.1,2473.1 790.2,2432.8 795.2,2469.1 802.3,2475.2 806.3,2499.4 810.3,2479.2 816.4,2442.9 823.4,2499.4 828.5,2434.8 836.5,2529.6 840.6,2449.0 844.6,2499.4 848.6,2479.2 854.7,2475.2 857.7,2499.4 859.7,2438.9 863.1,2170.7 866.8,2406.6 868.8,2489.3 872.8,2459.0 875.8,2491.3 884.9,2438.9 892.0,2511.5 897.0,2449.0 901.0,2289.7 907.1,2442.9 911.1,2449.0 915.2,2543.7 920.2,2451.0 925.2,2513.5 929.3,2539.7 934.3,2440.9 939.4,2483.2 947.4,2446.9 953.5,2483.2 958.5,2440.9 963.5,2523.5 964.0,2523.5 969.1,2503.4 971.1,2523.5 976.1,2453.0 981.2,2442.9 983.2,2453.0 986.2,2513.5 990.2,2469.1 993.3,2414.7 997.3,2473.1 1002.3,2483.2 1007.4,2467.1 1012.4,2497.3 1016.5,2442.9 1020.5,2459.0 1023.5,2527.6 1029.6,2493.3 1032.6,2495.3 1037.6,2535.6 1042.7,2511.5 1045.7,2527.6 1051.7,2422.7 1054.8,2495.3 1058.8,2489.3 1064.8,2503.4 1068.9,2509.4 1072.9,2467.1 1076.9,2503.4 1081.0,2505.4 1084.0,2477.2 1089.0,2507.4 1093.1,2483.2 1097.1,2519.5 1101.1,2455.0 1105.2,2473.1 1111.2,2479.2 1116.2,2471.1 1119.3,2354.2 1123.3,2453.0 1127.3,2467.1 1133.4,2473.1 1139.4,2477.2 1144.5,2453.0 1151.5,2511.5 1155.6,2463.1 1157.1,2467.1 1161.1,2394.5 1164.1,2451.0 1169.2,2457.0 1174.2,2473.1 1180.2,2533.6 1186.3,2487.3 1190.3,2499.4 1196.4,2489.3 1202.4,2513.5 1208.5,2497.3 1212.5,2515.5 1218.5,2541.7 1223.6,2489.3 1226.6,2539.7 1229.6,2485.2 1234.7,2491.3 1242.7,2487.3 1248.8,2503.4 1254.8,2481.2 1260.9,2483.2 1264.9,2523.5 1273.0,2527.6 1279.0,2507.4 1283.1,2487.3 1287.1,2533.6 1294.2,2414.7 1300.2,2513.5 1303.2,2449.0 1306.2,2503.4 1311.3,2412.7 1314.3,2525.6 1317.3,2422.7 1321.4,2463.1 1323.7,2403.3 1326.7,2162.6 1329.8,2113.2 1332.9,2255.2 1336.0,2347.8 1338.1,2296.3 1342.2,2306.6 1345.3,2368.4 1349.4,2460.9 1352.5,2251.1 1356.6,2374.5 1359.7,2111.2 1361.7,2168.8 1365.8,2096.7 1371.0,2407.4 1373.0,2076.2 1379.2,2450.7 1384.4,2263.4 1390.5,2432.1 1394.7,2378.6 1398.8,2514.4 1400.8,2212.0 1407.0,2337.5 1410.1,2522.7 1420.4,2228.4 1423.5,2460.9 1429.6,2446.5 1435.8,2446.5 1439.9,2487.7 1447.1,2524.7 1447.2,2528.8 1450.3,2417.7 1457.5,2467.1 1461.6,2409.5 1465.7,2465.1 1468.8,2399.2 1474.0,2366.3 1477.0,2512.4 1480.1,2469.2 1484.2,2526.8 1488.4,2423.9 1491.4,2502.1 1496.6,2481.5 1500.7,2481.5 1504.8,2530.9 1507.9,2337.5 1510.0,2152.3 1515.1,2444.5 1521.3,2312.8 1528.5,2395.1 1536.7,2434.2 1542.9,2304.6 1546.0,2454.8 1552.1,2337.5 1555.2,2333.4 1557.3,2456.8 1559.3,2234.6 1561.8,2391.0 1565.5,2214.0 1564.7,2347.8" fill="none" stroke="#42a5f5" stroke-width="4.8" stroke-linejoin="round" stroke-linecap="round"/>
</g>
<text x="54" y="126.5" style="font-family:'Liberation Serif','Times New Roman',serif;font-size:88px" fill="#000">a</text>
<text x="51.5" y="836" style="font-family:'Liberation Serif','Times New Roman',serif;font-size:88px" fill="#000">b</text>
<text x="53" y="2054" style="font-family:'Liberation Serif','Times New Roman',serif;font-size:88px;font-weight:bold" fill="#000">c</text>
<text x="757" y="868" textLength="127" lengthAdjust="spacingAndGlyphs" style="font-family:'Liberation Serif','Times New Roman',serif;font-size:88px" fill="#19ec19">Mo</text>
<text x="816" y="1660" textLength="93.5" lengthAdjust="spacingAndGlyphs" style="font-family:'Liberation Serif','Times New Roman',serif;font-size:88px" fill="#f01010">Fe</text>
<text x="845" y="2155" textLength="64" lengthAdjust="spacingAndGlyphs" style="font-family:'Liberation Serif','Times New Roman',serif;font-size:88px" fill="#4aa3ee">C</text>
<text x="1541" y="2022" style="font-family:'Liberation Serif','Times New Roman',serif;font-size:89px" fill="#000">μm</text>
<text x="1572" y="2612" style="font-family:'Liberation Serif','Times New Roman',serif;font-size:89px" fill="#000">μm</text>
<text transform="translate(51.5,1307.7) rotate(-90)" text-anchor="middle" style="font-family:'Liberation Serif','Times New Roman',serif;font-size:89px" fill="#000">pps</text>
<text transform="translate(63.2,2313.7) rotate(-90)" text-anchor="middle" style="font-family:'Liberation Serif','Times New Roman',serif;font-size:89px" fill="#000">pps</text>
</svg>
</body></html>
